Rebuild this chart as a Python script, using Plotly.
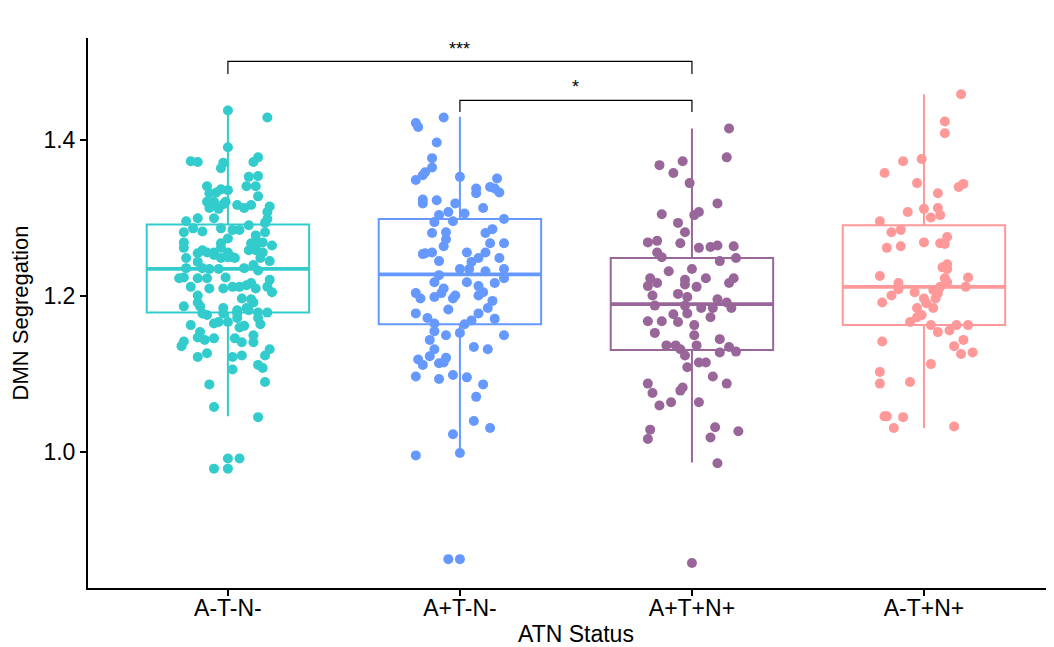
import plotly.graph_objects as go

categories = ["A-T-N-", "A+T-N-", "A+T+N+", "A-T+N+"]
colors = ["#33CCCC", "#6699FF", "#996699", "#FF9999"]

# box statistics
q1 = [1.179, 1.164, 1.131, 1.163]
median = [1.235, 1.228, 1.190, 1.212]
q3 = [1.292, 1.299, 1.249, 1.291]
lowerfence = [1.046, 0.998, 0.987, 1.031]
upperfence = [1.444, 1.430, 1.415, 1.459]

# jittered points: (horizontal jitter offset, value)
g1_dx = [-0.00,0.17,-0.00,-0.16,-0.13,0.13,0.11,-0.02,-0.03,0.09,0.13,0.08,0.12,-0.09,-0.08,-0.05,-0.03,-0.00,0.13,-0.09,
         -0.06,-0.02,-0.01,0.04,0.07,0.10,0.18,0.17,-0.08,-0.04,-0.18,-0.13,-0.06,0.17,0.16,-0.15,-0.11,-0.19,-0.03,0.02,
         0.05,0.09,0.16,0.12,-0.00,-0.03,-0.19,-0.19,-0.11,-0.13,-0.09,-0.06,-0.03,0.00,0.10,0.13,0.15,0.19,0.09,0.12,
         0.15,0.14,-0.18,-0.13,-0.06,-0.03,-0.00,0.02,0.03,0.18,-0.18,-0.11,-0.08,-0.04,0.07,0.11,0.13,-0.19,-0.21,-0.13,
         -0.09,-0.01,0.18,0.17,0.19,-0.16,-0.08,-0.02,0.02,0.05,0.08,0.10,0.12,-0.13,0.06,0.10,-0.19,-0.12,-0.02,0.04,
         0.08,0.13,-0.13,0.11,0.09,-0.11,-0.09,-0.02,0.04,0.17,-0.16,-0.06,-0.04,-0.00,0.04,0.05,0.07,0.13,0.14,-0.12,
         -0.13,-0.10,-0.06,0.03,0.06,0.11,0.11,-0.19,-0.20,0.18,0.16,-0.13,-0.09,0.02,0.06,0.13,0.15,0.02,-0.08,0.16,
         -0.06,0.13,-0.00,0.05,-0.06,-0.00]
g1_y = [1.438,1.429,1.391,1.373,1.372,1.378,1.372,1.371,1.364,1.353,1.354,1.341,1.341,1.341,1.332,1.333,1.337,1.336,1.328,1.321,
        1.321,1.318,1.321,1.317,1.313,1.317,1.315,1.308,1.313,1.312,1.296,1.300,1.300,1.299,1.294,1.287,1.283,1.282,1.287,1.285,
        1.285,1.291,1.282,1.278,1.274,1.268,1.269,1.262,1.259,1.255,1.256,1.256,1.262,1.256,1.268,1.268,1.269,1.265,1.259,1.259,
        1.256,1.249,1.249,1.244,1.253,1.249,1.250,1.250,1.249,1.245,1.236,1.236,1.235,1.235,1.236,1.240,1.233,1.224,1.223,1.223,
        1.223,1.224,1.221,1.212,1.205,1.212,1.210,1.210,1.212,1.212,1.214,1.217,1.210,1.201,1.197,1.196,1.187,1.187,1.185,1.182,
        1.185,1.179,1.192,1.192,1.182,1.178,1.176,1.178,1.178,1.179,1.163,1.165,1.167,1.167,1.172,1.160,1.162,1.172,1.164,1.154,
        1.147,1.144,1.146,1.146,1.141,1.150,1.141,1.142,1.136,1.132,1.124,1.122,1.127,1.122,1.124,1.112,1.108,1.106,1.087,1.090,
        1.058,1.045,0.992,0.992,0.979,0.979]

g2_dx = [-0.19,-0.18,-0.07,-0.10,-0.12,-0.12,-0.15,-0.16,-0.19,0.00,0.16,0.07,0.07,0.13,0.15,0.17,-0.16,-0.16,-0.10,-0.02,
         0.10,-0.05,-0.09,0.02,-0.11,-0.03,0.19,-0.12,-0.06,-0.06,-0.07,0.11,0.14,0.13,0.19,-0.16,-0.15,-0.12,-0.09,0.03,
         0.05,0.08,0.11,0.17,0.00,0.04,0.11,0.19,0.19,-0.09,-0.11,0.03,0.08,0.15,-0.19,-0.17,-0.11,-0.08,-0.07,-0.03,
         -0.02,0.08,0.10,0.14,-0.05,0.12,0.08,-0.19,-0.14,-0.11,0.02,0.05,0.15,-0.11,-0.06,0.00,0.19,-0.13,-0.11,-0.13,
         0.06,0.12,-0.18,-0.16,-0.09,-0.06,-0.07,-0.19,-0.09,-0.03,0.03,0.10,0.07,0.06,0.13,-0.03,-0.19,0.00,-0.05,0.00]
g2_y = [1.422,1.417,1.429,1.397,1.377,1.365,1.359,1.355,1.349,1.353,1.351,1.338,1.332,1.340,1.338,1.333,1.324,1.319,1.323,1.319,
        1.313,1.308,1.304,1.306,1.295,1.296,1.299,1.281,1.282,1.273,1.264,1.281,1.286,1.268,1.268,1.254,1.255,1.256,1.245,1.256,
        1.244,1.249,1.256,1.249,1.235,1.235,1.232,1.235,1.223,1.227,1.218,1.218,1.213,1.217,1.204,1.197,1.199,1.204,1.210,1.197,
        1.201,1.201,1.205,1.194,1.183,1.185,1.178,1.178,1.172,1.165,1.164,1.169,1.171,1.155,1.150,1.153,1.150,1.144,1.132,1.123,
        1.135,1.132,1.119,1.112,1.114,1.121,1.115,1.097,1.094,1.099,1.096,1.087,1.071,1.040,1.031,1.023,0.996,0.999,0.863,0.863]

g3_dx = [0.16,0.15,-0.14,-0.04,-0.08,-0.01,0.11,-0.13,0.03,0.01,-0.06,-0.03,-0.19,-0.15,-0.05,0.03,0.08,0.11,0.18,-0.15,
         -0.13,0.12,0.19,-0.10,0.00,-0.18,-0.19,-0.15,-0.03,-0.03,0.02,0.06,0.16,0.18,-0.17,-0.06,-0.02,0.11,0.15,-0.16,
         -0.03,0.04,0.09,0.17,-0.08,-0.02,0.08,-0.19,-0.13,-0.06,0.01,-0.16,0.01,-0.11,-0.07,-0.05,-0.03,0.02,0.12,0.12,
         0.16,0.19,0.03,0.06,-0.02,0.09,0.15,-0.19,-0.17,-0.04,-0.05,-0.14,-0.09,0.03,-0.18,-0.19,0.10,0.08,0.20,0.11,0.00]
g3_y = [1.415,1.378,1.368,1.373,1.358,1.345,1.319,1.305,1.308,1.304,1.294,1.282,1.269,1.271,1.268,1.262,1.263,1.265,1.264,1.256,
        1.250,1.245,1.249,1.232,1.235,1.223,1.213,1.217,1.221,1.215,1.212,1.223,1.217,1.223,1.201,1.203,1.199,1.196,1.192,1.188,
        1.188,1.185,1.185,1.185,1.177,1.178,1.173,1.168,1.168,1.167,1.163,1.153,1.150,1.137,1.137,1.132,1.124,1.137,1.145,1.128,
        1.135,1.129,1.115,1.115,1.109,1.097,1.088,1.088,1.076,1.083,1.079,1.060,1.064,1.064,1.029,1.017,1.032,1.019,1.027,0.986,0.858]

g4_dx = [0.16,0.09,0.09,-0.09,-0.01,-0.17,-0.03,0.15,0.17,0.06,-0.07,-0.00,0.06,0.07,0.03,-0.19,-0.14,-0.10,0.10,0.07,
         0.09,-0.00,-0.16,-0.10,0.08,0.10,0.10,-0.19,0.09,0.10,0.19,-0.11,-0.11,0.18,0.07,0.04,0.06,0.05,-0.14,-0.18,
         -0.04,0.00,0.01,-0.03,0.04,-0.01,-0.03,-0.06,0.03,0.06,0.11,0.14,0.19,-0.18,0.13,0.17,0.16,0.21,0.03,-0.19,
         -0.19,-0.06,-0.17,-0.16,-0.09,-0.13,0.13]
g4_y = [1.459,1.424,1.409,1.373,1.376,1.358,1.345,1.340,1.344,1.332,1.308,1.312,1.313,1.304,1.301,1.296,1.282,1.285,1.276,1.268,
        1.267,1.269,1.262,1.264,1.237,1.241,1.235,1.226,1.223,1.218,1.224,1.217,1.209,1.212,1.212,1.208,1.204,1.197,1.201,1.192,
        1.205,1.197,1.191,1.185,1.185,1.176,1.173,1.167,1.163,1.154,1.156,1.163,1.163,1.142,1.136,1.144,1.126,1.128,1.113,1.103,
        1.088,1.090,1.046,1.046,1.045,1.031,1.033]

group_dx = [g1_dx, g2_dx, g3_dx, g4_dx]
group_y = [g1_y, g2_y, g3_y, g4_y]

# significance brackets: (from group, to group, bracket height, tick bottom, label, label height)
brackets = [(1, 3, 1.501, 1.485, "***", 1.517), (2, 3, 1.451, 1.436, "*", 1.468)]

FONT = "Liberation Sans, Arial, sans-serif"
box_width = 0.7
fig = go.Figure()

for i, cat in enumerate(categories):
    xpos = i + 1
    fig.add_trace(go.Box(
        x=[xpos], q1=[q1[i]], median=[median[i]], q3=[q3[i]],
        lowerfence=[lowerfence[i]], upperfence=[upperfence[i]],
        width=box_width, whiskerwidth=0, boxpoints=False,
        line=dict(color=colors[i], width=2), fillcolor="rgba(255,255,255,0)",
        showlegend=False, hoverinfo="skip"))
    fig.add_trace(go.Scatter(
        x=[xpos - box_width / 2, xpos + box_width / 2], y=[median[i], median[i]],
        mode="lines", line=dict(color=colors[i], width=3.8),
        showlegend=False, hoverinfo="skip"))

for i, cat in enumerate(categories):
    xpos = i + 1
    fig.add_trace(go.Scatter(
        x=[xpos + d for d in group_dx[i]], y=group_y[i], mode="markers",
        marker=dict(color=colors[i], size=10, line=dict(width=0)),
        showlegend=False, name=cat))

for a, b, yb, yt, lab, ylab in brackets:
    fig.add_trace(go.Scatter(
        x=[a, a, b, b], y=[yt, yb, yb, yt], mode="lines",
        line=dict(color="black", width=1.2), showlegend=False, hoverinfo="skip"))
    fig.add_annotation(x=(a + b) / 2, y=ylab, text=lab, showarrow=False,
                       font=dict(size=18, color="black", family=FONT))

# x axis title as an annotation below the tick labels
fig.add_annotation(xref="paper", yref="paper", x=(2.5 - 0.397) / (4.526 - 0.397), y=0,
                   yanchor="middle", yshift=-46, text="ATN Status", showarrow=False,
                   font=dict(size=23, color="black", family=FONT))

fig.update_layout(
    width=1038, height=639,
    margin=dict(l=80, r=0, t=30, b=59),
    plot_bgcolor="white", paper_bgcolor="white",
    font=dict(family=FONT, size=23, color="black"),
    showlegend=False,
)
fig.update_xaxes(
    range=[0.397, 4.526], tickmode="array", tickvals=[1, 2, 3, 4], ticktext=categories,
    showline=True, linecolor="black", linewidth=2, ticks="outside", ticklen=6, tickwidth=1.5,
    tickcolor="black", showgrid=False, zeroline=False, automargin=False,
    ticklabelstandoff=-8, tickfont=dict(size=23))
fig.update_yaxes(
    range=[0.826, 1.531], tickmode="array", tickvals=[1.0, 1.2, 1.4],
    ticktext=["1.0", "1.2", "1.4"],
    showline=True, linecolor="black", linewidth=2, ticks="outside", ticklen=6, tickwidth=1.5,
    tickcolor="black", showgrid=False, zeroline=False, automargin=False,
    title=dict(text="DMN Segregation", font=dict(size=22), standoff=10),
    tickfont=dict(size=23))

fig.write_html("out.html")
